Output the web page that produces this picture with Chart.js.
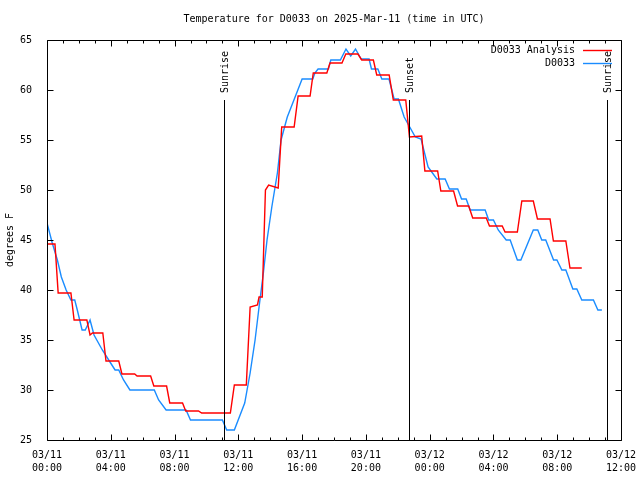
<!DOCTYPE html>
<html>
<head>
<meta charset="utf-8">
<script src="https://cdn.jsdelivr.net/npm/chart.js@4.4.1/dist/chart.umd.min.js"></script>
<style>
  html, body { margin: 0; padding: 0; background: #fff; }
</style>
</head>
<body>
<canvas id="chart" width="640" height="480"></canvas>
<script>
// hours since 03/11 00:00 UTC
const analysisHours = [0, 0.5, 0.7, 1.5, 1.7, 2.5, 2.7, 2.85, 3.5, 3.7, 4.5, 4.7, 5.5, 5.65, 6.5, 6.7, 7.5, 7.7,
  8.5, 8.7, 9.5, 9.7, 11.5, 11.75, 12.5, 12.74, 13.2, 13.3, 13.5, 13.7, 13.9, 14.5, 14.72, 15.5, 15.75,
  16.5, 16.7, 17.55, 17.75, 18.5, 18.74, 19.5, 19.74, 20.47, 20.68, 21.46, 21.72, 22.5, 22.73, 23.5,
  23.7, 24.5, 24.7, 25.5, 25.75, 26.45, 26.7, 27.55, 27.75, 28.55, 28.73, 29.5, 29.78, 30.5, 30.76,
  31.55, 31.76, 32.54, 32.8, 33.54];
const analysisTemps = [44.6, 44.6, 39.7, 39.7, 37.0, 37.0, 35.5, 35.7, 35.7, 32.9, 32.9, 31.6, 31.6, 31.4, 31.4, 30.4, 30.4, 28.7,
  28.7, 27.9, 27.9, 27.7, 27.7, 30.5, 30.5, 38.3, 38.5, 39.3, 39.3, 50.0, 50.5, 50.2, 56.3, 56.3, 59.4,
  59.4, 61.7, 61.7, 62.7, 62.7, 63.6, 63.6, 63.0, 63.0, 61.5, 61.5, 59.0, 59.0, 55.3, 55.4,
  51.9, 51.9, 49.9, 49.9, 48.4, 48.4, 47.2, 47.2, 46.4, 46.4, 45.8, 45.8, 48.9, 48.9, 47.1,
  47.1, 44.9, 44.9, 42.2, 42.2];

const obsHours = [0, 0.33, 0.65, 0.9, 1.2, 1.5, 1.74, 1.9, 2.2, 2.4, 2.7, 2.95, 3.47, 3.95, 4.27, 4.5, 4.8, 5.2,
  6.73, 7.0, 7.47, 8.72, 9.0, 11.0, 11.27, 11.75, 12.4, 12.74, 13.05, 13.3, 13.57, 13.8, 14.1, 14.45,
  14.68, 15.07, 15.56, 16.0, 16.67, 16.8, 17.0, 17.65, 17.8, 18.4, 18.75, 19.05, 19.35, 19.7, 20.2,
  20.35, 20.75, 20.9, 21.0, 21.45, 21.77, 22.04, 22.4, 23.1, 23.46, 23.9, 24.45, 24.97, 25.24, 25.76,
  26.0, 26.29, 26.54, 27.48, 27.7, 28.0, 28.3, 28.8, 29.05, 29.5, 29.72, 30.5, 30.78, 31.03, 31.28,
  31.77, 31.98, 32.29, 32.54, 32.98, 33.23, 33.54, 34.27, 34.55, 34.8];
const obsTemps = [46.7, 44.7, 43.0, 41.3, 40.0, 39.0, 39.0, 38.0, 36.0, 36.0, 37.0, 35.5, 34.0, 32.8, 32.0, 32.0, 31.0, 30.0,
  30.0, 29.0, 28.0, 28.0, 27.0, 27.0, 26.0, 26.0, 28.7, 31.7, 35.0, 38.3, 41.7, 45.0, 48.3, 51.7,
  55.0, 57.3, 59.3, 61.1, 61.1, 61.7, 62.1, 62.1, 63.0, 63.0, 64.1, 63.4, 64.1, 63.1, 63.1,
  62.1, 62.1, 61.5, 61.1, 61.1, 59.1, 59.1, 57.3, 55.3, 55.1, 52.3, 51.1, 51.1, 50.1, 50.1,
  49.1, 49.1, 48.0, 48.0, 47.0, 47.0, 46.0, 45.0, 45.0, 43.0, 43.0, 46.0, 46.0, 45.0, 45.0,
  43.0, 43.0, 42.0, 42.0, 40.1, 40.1, 39.0, 39.0, 38.0, 38.0];

const sunLabels = ['Sunrise', 'Sunset', 'Sunrise'];
const sunHours  = [11.12, 22.73, 35.13];

const xTickDates = ['03/11', '03/11', '03/11', '03/11', '03/11', '03/11', '03/12', '03/12', '03/12', '03/12'];
const xTickTimes = ['00:00', '04:00', '08:00', '12:00', '16:00', '20:00', '00:00', '04:00', '08:00', '12:00'];

const FONT = '10px "DejaVu Sans Mono", "Liberation Mono", monospace';

const frameTicks = {
  id: 'frameTicks',
  afterDraw(chart) {
    const { ctx, chartArea: a, scales: { x, y } } = chart;
    ctx.save();
    ctx.strokeStyle = '#000';
    ctx.fillStyle = '#000';
    ctx.lineWidth = 1;

    // sunrise / sunset markers
    ctx.font = FONT;
    sunHours.forEach((h, i) => {
      const px = Math.round(x.getPixelForValue(h)) + 0.5;
      ctx.beginPath();
      ctx.moveTo(px, 100);
      ctx.lineTo(px, a.bottom);
      ctx.stroke();
      ctx.save();
      ctx.translate(px + 1, 93);
      ctx.rotate(-Math.PI / 2);
      ctx.textAlign = 'left';
      ctx.textBaseline = 'middle';
      ctx.fillText(sunLabels[i], 0, 0);
      ctx.restore();
    });

    // frame
    const l = Math.round(a.left) + 0.5, r = Math.round(a.right) + 0.5;
    const t = Math.round(a.top) + 0.5, b = Math.round(a.bottom) + 0.5;
    ctx.beginPath();
    ctx.rect(l, t, r - l, b - t);
    ctx.stroke();

    // inward ticks
    ctx.beginPath();
    for (let h = 0; h <= 36; h++) {
      const px = Math.round(x.getPixelForValue(h)) + 0.5;
      const len = h % 4 === 0 ? 6 : 3;
      ctx.moveTo(px, b); ctx.lineTo(px, b - len);
      ctx.moveTo(px, t); ctx.lineTo(px, t + len);
    }
    for (let v = 25; v <= 65; v += 5) {
      const py = Math.round(y.getPixelForValue(v)) + 0.5;
      ctx.moveTo(l, py); ctx.lineTo(l + 6, py);
      ctx.moveTo(r, py); ctx.lineTo(r - 6, py);
    }
    ctx.stroke();

    // title and y label
    ctx.textAlign = 'center';
    ctx.textBaseline = 'middle';
    ctx.fillText('Temperature for D0033 on 2025-Mar-11 (time in UTC)', (a.left + a.right) / 2, 19);
    ctx.save();
    ctx.translate(10, (a.top + a.bottom) / 2);
    ctx.rotate(-Math.PI / 2);
    ctx.fillText('degrees F', 0, 0);
    ctx.restore();

    // legend
    chart.data.datasets.forEach((ds, i) => {
      const ly = 50 + i * 13;
      ctx.textAlign = 'right';
      ctx.fillText(ds.label, 575, ly);
      ctx.strokeStyle = ds.borderColor;
      ctx.lineWidth = 1.4;
      ctx.beginPath();
      ctx.moveTo(583, ly + 0.5);
      ctx.lineTo(612, ly + 0.5);
      ctx.stroke();
    });
    ctx.restore();
  }
};

new Chart(document.getElementById('chart'), {
  type: 'line',
  data: {
    datasets: [
      {
        label: 'D0033 Analysis',
        data: analysisHours.map((h, i) => ({ x: h, y: analysisTemps[i] })),
        borderColor: '#ff0000',
        borderWidth: 1.4,
        pointRadius: 0,
        tension: 0
      },
      {
        label: 'D0033',
        data: obsHours.map((h, i) => ({ x: h, y: obsTemps[i] })),
        borderColor: '#1a8cff',
        borderWidth: 1.4,
        pointRadius: 0,
        tension: 0
      }
    ]
  },
  options: {
    responsive: false,
    animation: false,
    layout: { padding: { top: 40, right: 19, left: 0, bottom: 0 } },
    plugins: {
      legend: { display: false },
      tooltip: { enabled: false },
      title: { display: false }
    },
    scales: {
      x: {
        type: 'linear',
        min: 0,
        max: 36,
        grid: { display: false },
        border: { display: false },
        ticks: {
          stepSize: 4,
          autoSkip: false,
          maxRotation: 0,
          padding: 1,
          color: '#000',
          font: { family: '"DejaVu Sans Mono", "Liberation Mono", monospace', size: 10, lineHeight: 1.3 },
          callback: v => [xTickDates[v / 4], xTickTimes[v / 4]]
        },
        afterFit: s => { s.height = 40; s.paddingLeft = 0; s.paddingRight = 0; }
      },
      y: {
        min: 25,
        max: 65,
        grid: { display: false },
        border: { display: false },
        ticks: {
          stepSize: 5,
          padding: 7,
          color: '#000',
          font: { family: '"DejaVu Sans Mono", "Liberation Mono", monospace', size: 10 }
        },
        afterFit: s => { s.width = 47; }
      }
    }
  },
  plugins: [frameTicks]
});
</script>
</body>
</html>
